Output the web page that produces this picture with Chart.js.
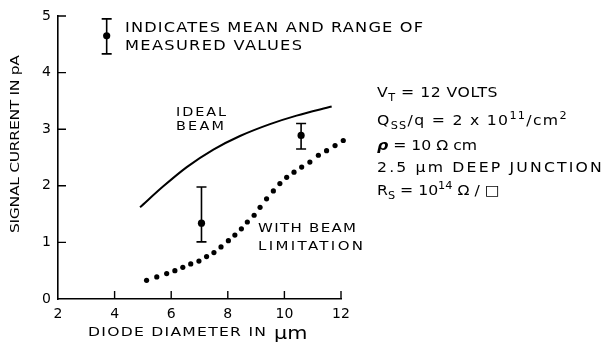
<!DOCTYPE html>
<html>
<head>
<meta charset="utf-8">
<script src="https://cdn.jsdelivr.net/npm/chart.js@4.4.1/dist/chart.umd.min.js"></script>
<style>
  html, body { margin: 0; padding: 0; background: #fff; }
  #wrap { width: 606px; height: 342px; position: relative; }
</style>
</head>
<body>
<div id="wrap"><canvas id="chart"></canvas></div>
<script>
// ideal beam curve (solid)
const idealX = [4.9, 5.72, 6.55, 7.49, 8.43, 9.49, 10.43, 11.67];
const idealY = [1.62, 1.99, 2.33, 2.64, 2.88, 3.09, 3.24, 3.40];

// with beam limitation (dotted)
const limitX = [5.13, 5.49, 5.84, 6.13, 6.41, 6.69, 6.98, 7.25, 7.51, 7.76, 8.02, 8.25, 8.48, 8.69,
                8.93, 9.14, 9.37, 9.61, 9.84, 10.08, 10.34, 10.61, 10.9, 11.2, 11.49, 11.79, 12.08];
const limitY = [0.33, 0.39, 0.45, 0.50, 0.56, 0.62, 0.67, 0.75, 0.82, 0.92, 1.03, 1.13, 1.24, 1.36,
                1.48, 1.62, 1.77, 1.91, 2.04, 2.15, 2.24, 2.33, 2.42, 2.54, 2.62, 2.71, 2.80];

// measured values: mean and range (first one is the legend key)
const measX = [3.72, 7.07, 10.59];
const measMean = [4.65, 1.34, 2.89];
const measLow = [4.33, 1.01, 2.65];
const measHigh = [4.95, 1.98, 3.10];

const xTicks = [2, 4, 6, 8, 10, 12];
const yTicks = [0, 1, 2, 3, 4, 5];

const FONT = "'DejaVu Sans', sans-serif";

function toPts(xs, ys) {
  return xs.map((x, i) => ({ x: x, y: ys[i] }));
}

// draw text widened to a given width (glyph stretch + letter spacing)
function fitText(ctx, text, x, y, width, size, stretch) {
  ctx.save();
  ctx.font = size + 'px ' + FONT;
  ctx.letterSpacing = '0px';
  const k = stretch || 1.2;
  const w = ctx.measureText(text).width * k;
  const sp = (width - w) / Math.max(1, text.length - 1) / k;
  ctx.letterSpacing = sp.toFixed(2) + 'px';
  ctx.textAlign = 'left';
  ctx.textBaseline = 'middle';
  ctx.translate(x, y);
  ctx.scale(k, 1);
  ctx.fillText(text, 0, 0);
  ctx.restore();
}

// runs of text with sub / superscripts; letter spacing chosen to reach a width
function drawRuns(ctx, x, y, runs, size, width) {
  const k = 1.12;
  ctx.save();
  ctx.textBaseline = 'alphabetic';
  ctx.textAlign = 'left';
  const setFont = r => {
    let s = size;
    if (r.sub || r.sup) s = size * 0.72;
    ctx.font = (r.style || '') + ' ' + s + 'px ' + FONT;
  };
  let total = 0, chars = 0;
  ctx.letterSpacing = '0px';
  runs.forEach(r => { setFont(r); total += ctx.measureText(r.t).width; chars += r.t.length; });
  const sp = Math.max(0, (width / k - total) / chars);
  ctx.letterSpacing = sp.toFixed(2) + 'px';
  ctx.translate(x, y);
  ctx.scale(k, 1);
  let cx = 0;
  runs.forEach(r => {
    setFont(r);
    let dy = 0;
    if (r.sub) dy = size * 0.3;
    if (r.sup) dy = -size * 0.4;
    ctx.fillText(r.t, cx, dy);
    cx += ctx.measureText(r.t).width;
  });
  ctx.restore();
}

const extras = {
  id: 'extras',
  afterDatasetsDraw(chart) {
    const { ctx, scales: { x, y } } = chart;
    ctx.save();
    ctx.strokeStyle = '#000';
    ctx.lineWidth = 1.6;
    // error bars
    measX.forEach((mx, i) => {
      const px = x.getPixelForValue(mx);
      const top = y.getPixelForValue(measHigh[i]);
      const bot = y.getPixelForValue(measLow[i]);
      ctx.beginPath();
      ctx.moveTo(px, top); ctx.lineTo(px, bot);
      ctx.moveTo(px - 5, top); ctx.lineTo(px + 5, top);
      ctx.moveTo(px - 5, bot); ctx.lineTo(px + 5, bot);
      ctx.stroke();
    });
    ctx.restore();
  },
  afterDraw(chart) {
    const { ctx, chartArea: a, scales: { x, y } } = chart;
    ctx.save();
    ctx.strokeStyle = '#000';
    ctx.fillStyle = '#000';
    ctx.lineWidth = 1.4;
    // inward tick marks
    ctx.beginPath();
    xTicks.forEach(v => {
      const px = x.getPixelForValue(v);
      if (v === xTicks[0]) return;
      ctx.moveTo(px, a.bottom); ctx.lineTo(px, a.bottom - 8);
    });
    yTicks.forEach(v => {
      const py = y.getPixelForValue(v);
      if (v === yTicks[0]) return;
      ctx.moveTo(a.left, py); ctx.lineTo(a.left + 8, py);
    });
    ctx.stroke();

    // axis titles
    ctx.save();
    ctx.translate(16, 144);
    ctx.rotate(-Math.PI / 2);
    fitText(ctx, 'SIGNAL CURRENT IN pA', -89, 0, 178, 13);
    ctx.restore();
    fitText(ctx, 'DIODE DIAMETER IN', 88, 333, 178, 13);
    ctx.save();
    ctx.font = '18px ' + FONT;
    ctx.textBaseline = 'alphabetic';
    ctx.translate(274, 339);
    ctx.scale(1.15, 1);
    ctx.fillText('\u00b5m', 0, 0);
    ctx.restore();

    // in-plot labels
    fitText(ctx, 'INDICATES MEAN AND RANGE OF', 125, 28, 298, 13.5);
    fitText(ctx, 'MEASURED VALUES', 125, 46, 177, 13.5);
    fitText(ctx, 'IDEAL', 176, 113, 50, 12);
    fitText(ctx, 'BEAM', 176, 127, 48, 12);
    fitText(ctx, 'WITH BEAM', 258, 229, 98, 12.5);
    fitText(ctx, 'LIMITATION', 258, 247, 105, 12.5);

    // parameter block on the right
    const sz = 14;
    drawRuns(ctx, 377, 97, [{ t: 'V' }, { t: 'T', sub: true }, { t: ' = 12 VOLTS' }], sz, 121);
    drawRuns(ctx, 377, 125, [{ t: 'Q' }, { t: 'SS', sub: true }, { t: '/q = 2 x 10' }, { t: '11', sup: true },
      { t: '/cm' }, { t: '2', sup: true }], sz, 191);
    drawRuns(ctx, 377, 150, [{ t: '\u03c1', style: 'bold italic' }, { t: ' = 10 \u03a9 cm' }], sz, 95);
    drawRuns(ctx, 377, 172, [{ t: '2.5 \u00b5m DEEP JUNCTION' }], sz, 227);
    drawRuns(ctx, 377, 195, [{ t: 'R' }, { t: 'S', sub: true }, { t: ' = 10' }, { t: '14', sup: true },
      { t: ' \u03a9 / \u25a1' }], sz, 120);
    ctx.restore();
  }
};

const ctx = document.getElementById('chart').getContext('2d');
const chart = new Chart(ctx, {
  type: 'scatter',
  data: {
    datasets: [
      {
        label: 'Ideal beam',
        data: toPts(idealX, idealY),
        showLine: true,
        borderColor: '#000',
        borderWidth: 2,
        pointRadius: 0,
        cubicInterpolationMode: 'monotone',
        fill: false
      },
      {
        label: 'With beam limitation',
        data: toPts(limitX, limitY),
        showLine: false,
        clip: false,
        pointRadius: 2.6,
        pointBackgroundColor: '#000',
        pointBorderWidth: 0
      },
      {
        label: 'Measured',
        data: toPts(measX, measMean),
        showLine: false,
        pointRadius: 3.6,
        pointBackgroundColor: '#000',
        pointBorderWidth: 0
      }
    ]
  },
  options: {
    responsive: true,
    maintainAspectRatio: false,
    animation: false,
    events: [],
    layout: { padding: { left: 0, right: 265, top: 16, bottom: 0 } },
    plugins: {
      legend: { display: false },
      tooltip: { enabled: false }
    },
    scales: {
      x: {
        type: 'linear',
        min: 2,
        max: 12,
        afterBuildTicks: s => { s.ticks = xTicks.map(v => ({ value: v })); },
        afterFit: s => { s.height = 43; },
        grid: { display: true, drawOnChartArea: false, drawTicks: false },
        border: { display: true, color: '#000', width: 1.6 },
        ticks: { color: '#000', padding: 7, font: { family: FONT, size: 14 }, maxRotation: 0 }
      },
      y: {
        type: 'linear',
        min: 0,
        max: 5,
        afterBuildTicks: s => { s.ticks = yTicks.map(v => ({ value: v })); },
        afterFit: s => { s.width = 58; },
        grid: { display: true, drawOnChartArea: false, drawTicks: false },
        border: { display: true, color: '#000', width: 1.6 },
        ticks: { color: '#000', padding: 7, font: { family: FONT, size: 14 } }
      }
    }
  },
  plugins: [extras]
});
</script>
</body>
</html>
